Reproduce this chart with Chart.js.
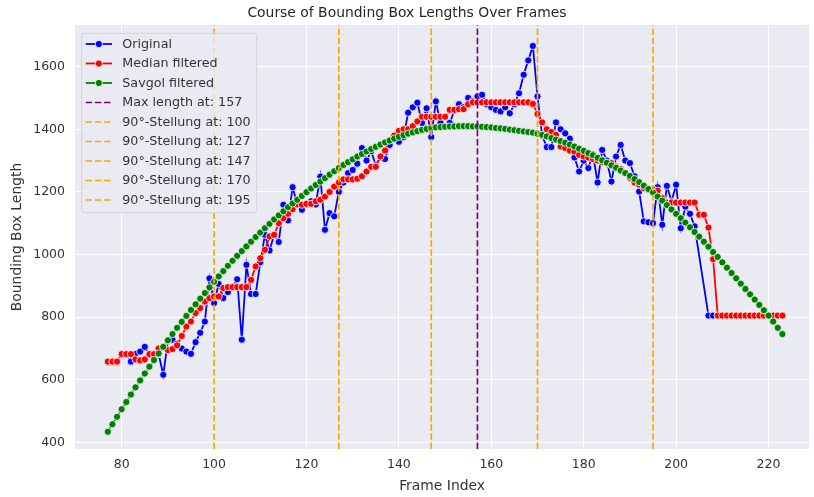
<!DOCTYPE html>
<html>
<head>
<meta charset="utf-8">
<script src="https://cdn.jsdelivr.net/npm/chart.js@4.4.1/dist/chart.umd.min.js"></script>
<style>
  html, body { margin: 0; padding: 0; background: #fff; }
  #wrap { width: 814px; height: 497px; }
</style>
</head>
<body>
<div id="wrap"><canvas id="chart" width="814" height="497"></canvas></div>
<script>
// frames 77 .. 223
const startFrame = 77;

// null = frame without a detection (line bridges the gap)
const original = [
  658, 658, 658, 682, 682, 658, 682, 690, 705, 682,
  668, 682, 616, 725, 728, 715, 700, 690, 683, 720,
  750, 786, 924, 845, 906, 861, 880, 896, 921, 728,
  967, 874, 874, 975, 1063, 1013, 1063, 1040, 1159, 1109,
  1215, 1160, 1143, 1160, 1170, 1160, 1249, 1079, 1132, 1122,
  1200, 1230, 1260, 1270, 1290, 1340, 1300, 1330, 1285, 1310,
  1305, 1350, 1380, 1360, 1375, 1453, 1470, 1485, 1420, 1467,
  1375, 1489, 1420, 1440, 1420, 1460, 1480, 1470, 1500, 1490,
  1505, 1510, 1480, 1470, 1462, 1457, 1470, 1451, 1480, 1515,
  1574, 1620, 1666, 1505, 1380, 1343, 1343, 1422, 1400, 1387,
  1370, 1310, 1265, 1300, 1276, 1320, 1230, 1334, 1300, 1233,
  1313, 1350, 1300, 1292, 1250, 1201, 1106, 1103, 1100, 1215,
  1095, 1219, 1170, 1223, 1084, 1153, 1130, 1090, null, null,
  805, 805, 805, 805, 805, 805, 805, 805, 805, 805,
  805, 805, 805, 805, 805, 805, 805
];

const medianFiltered = [
  658, 658, 658, 682, 682, 682, 665, 662, 665, 682,
  682, 700, 705, 695, 698, 710, 740, 770, 786, 813,
  829, 850, 861, 866, 866, 893, 896, 896, 896, 896,
  896, 919, 962, 988, 1015, 1058, 1063, 1100, 1116, 1130,
  1145, 1160, 1159, 1162, 1162, 1170, 1175, 1185, 1200, 1217,
  1230, 1240, 1240, 1240, 1242, 1250, 1265, 1280, 1280, 1313,
  1332, 1365, 1380, 1395, 1400, 1400, 1410, 1425, 1440, 1440,
  1440, 1440, 1440, 1440, 1462, 1462, 1464, 1464, 1480, 1486,
  1486, 1486, 1486, 1486, 1486, 1486, 1486, 1486, 1486, 1486,
  1486, 1486, 1481, 1449, 1422, 1400, 1391, 1382, 1345, 1340,
  1332, 1329, 1318, 1313, 1310, 1305, 1300, 1295, 1292, 1292,
  1281, 1273, 1260, 1245, 1230, 1223, 1212, 1207, 1207, 1204,
  1180, 1166, 1166, 1166, 1166, 1166, 1166, 1166, 1127, 1127,
  1086, 985, 805, 805, 805, 805, 805, 805, 805, 805,
  805, 805, 805, 805, 805, 805, 805
];

const savgolFiltered = [
  434, 458, 482, 506, 529, 553, 576, 598, 620, 642,
  663, 684, 705, 726, 746, 766, 785, 804, 823, 841,
  859, 877, 895, 913, 930, 947, 964, 980, 996, 1011,
  1026, 1041, 1056, 1070, 1084, 1098, 1112, 1125, 1138, 1151,
  1163, 1175, 1187, 1199, 1211, 1222, 1233, 1244, 1255, 1266,
  1276, 1286, 1295, 1304, 1313, 1321, 1329, 1337, 1344, 1351,
  1358, 1364, 1370, 1376, 1381, 1386, 1390, 1394, 1398, 1401,
  1404, 1406, 1407, 1408, 1409, 1409, 1410, 1410, 1410, 1409,
  1409, 1408, 1407, 1406, 1404, 1403, 1401, 1399, 1397, 1395,
  1393, 1391, 1389, 1386, 1382, 1377, 1372, 1367, 1362, 1357,
  1351, 1345, 1338, 1331, 1324, 1317, 1309, 1301, 1293, 1285,
  1277, 1268, 1260, 1251, 1241, 1231, 1220, 1209, 1198, 1185,
  1172, 1158, 1144, 1130, 1116, 1102, 1087, 1072, 1057, 1041,
  1025, 1008, 992, 975, 958, 941, 924, 907, 890, 873,
  856, 839, 822, 805, 786, 766, 746
];

const maxFrame = 157;
const stellungFrames = [100, 127, 147, 170, 195];

const xTicks = [80, 100, 120, 140, 160, 180, 200, 220];
const yTicks = [400, 600, 800, 1000, 1200, 1400, 1600];
const xRange = [69.9, 228.8];
const yRange = [379, 1733];

const FONT = '"DejaVu Sans", "Liberation Sans", sans-serif';
const TEXT = '#333333';

const frames = original.map((_, i) => startFrame + i);
const toPoints = (values) => values.map((v, i) => ({ x: frames[i], y: v }));
const vline = (x) => [{ x, y: yRange[0] }, { x, y: yRange[1] }];

function seriesDataset(label, values, color, order) {
  return {
    label,
    data: toPoints(values),
    borderColor: color,
    backgroundColor: color,
    borderWidth: 1.8,
    pointRadius: 3.6,
    pointBackgroundColor: color,
    pointBorderColor: '#ffffff',
    pointBorderWidth: 0.8,
    tension: 0,
    spanGaps: true,
    order
  };
}

function dashedDataset(label, x, color) {
  return {
    label,
    data: vline(x),
    borderColor: color,
    borderWidth: 1.7,
    borderDash: [6.4, 2.8],
    pointRadius: 0,
    order: 0
  };
}

const datasets = [
  seriesDataset('Original', original, '#0000ff', 3),
  seriesDataset('Median filtered', medianFiltered, '#ff0000', 2),
  seriesDataset('Savgol filtered', savgolFiltered, '#008000', 1),
  dashedDataset(`Max length at: ${maxFrame}`, maxFrame, '#800080'),
  ...stellungFrames.map((f) => dashedDataset(`90°-Stellung at: ${f}`, f, '#ffa500'))
];

const backgroundPlugin = {
  id: 'background',
  beforeDraw(chart) {
    const { ctx, chartArea } = chart;
    ctx.save();
    ctx.fillStyle = '#ffffff';
    ctx.fillRect(0, 0, chart.width, chart.height);
    ctx.fillStyle = '#eaeaf2';
    ctx.fillRect(chartArea.left, chartArea.top, chartArea.right - chartArea.left, chartArea.bottom - chartArea.top);
    ctx.restore();
  }
};

// matplotlib-style legend box in the upper left of the plot
const insideLegend = {
  id: 'insideLegend',
  afterDatasetsDraw(chart) {
    const { ctx, chartArea } = chart;
    const items = chart.data.datasets;
    const left = chartArea.left + 6.7;
    const top = chartArea.top + 8.3;
    const rowGap = 19.5;
    const width = 175;
    const height = 10.7 + (items.length - 1) * rowGap + 12.7;

    ctx.save();
    ctx.beginPath();
    ctx.roundRect(left, top, width, height, 3);
    ctx.fillStyle = 'rgba(234, 234, 242, 0.8)';
    ctx.fill();
    ctx.strokeStyle = 'rgba(204, 204, 204, 0.8)';
    ctx.lineWidth = 1;
    ctx.stroke();

    ctx.font = `12.7px ${FONT}`;
    ctx.textBaseline = 'middle';
    ctx.textAlign = 'left';

    items.forEach((ds, i) => {
      const y = top + 10.7 + i * rowGap;
      const x0 = left + 4;
      const x1 = left + 30.3;
      ctx.beginPath();
      ctx.setLineDash(ds.borderDash || []);
      ctx.strokeStyle = ds.borderColor;
      ctx.lineWidth = ds.borderWidth;
      ctx.moveTo(x0, y);
      ctx.lineTo(x1, y);
      ctx.stroke();
      ctx.setLineDash([]);
      if (ds.pointRadius > 0) {
        ctx.beginPath();
        ctx.arc((x0 + x1) / 2, y, ds.pointRadius, 0, Math.PI * 2);
        ctx.fillStyle = ds.pointBackgroundColor;
        ctx.fill();
        ctx.strokeStyle = '#ffffff';
        ctx.lineWidth = ds.pointBorderWidth;
        ctx.stroke();
      }
      ctx.fillStyle = TEXT;
      ctx.fillText(ds.label, left + 40.6, y + 0.5);
    });
    ctx.restore();
  }
};

const ctx = document.getElementById('chart').getContext('2d');
new Chart(ctx, {
  type: 'line',
  data: { datasets },
  options: {
    responsive: false,
    animation: false,
    layout: { padding: 0 },
    plugins: {
      legend: { display: false },
      tooltip: { enabled: false },
      title: {
        display: true,
        text: 'Course of Bounding Box Lengths Over Frames',
        color: '#262626',
        font: { family: FONT, size: 13.9, weight: 'normal' },
        padding: { top: 5.3, bottom: 3 }
      }
    },
    scales: {
      x: {
        type: 'linear',
        min: xRange[0],
        max: xRange[1],
        afterFit(scale) { scale.height = 48; },
        afterBuildTicks(scale) { scale.ticks = xTicks.map((v) => ({ value: v })); },
        grid: { color: '#ffffff', lineWidth: 1, drawTicks: false },
        border: { display: false },
        ticks: {
          color: TEXT,
          font: { family: FONT, size: 12.5 },
          padding: 8,
          callback: (v) => String(v)
        },
        title: {
          display: true,
          text: 'Frame Index',
          color: TEXT,
          font: { family: FONT, size: 13.9 },
          padding: { top: 0, bottom: 2 }
        }
      },
      y: {
        type: 'linear',
        min: yRange[0],
        max: yRange[1],
        afterFit(scale) { scale.width = 75; },
        afterBuildTicks(scale) { scale.ticks = yTicks.map((v) => ({ value: v })); },
        grid: { color: '#ffffff', lineWidth: 1, drawTicks: false },
        border: { display: false },
        ticks: {
          color: TEXT,
          font: { family: FONT, size: 12.5 },
          padding: 10,
          callback: (v) => String(v)
        },
        title: {
          display: true,
          text: 'Bounding Box Length',
          color: TEXT,
          font: { family: FONT, size: 13.9 },
          padding: { top: 9, bottom: 0 }
        }
      }
    }
  },
  plugins: [backgroundPlugin, insideLegend]
});
</script>
</body>
</html>
